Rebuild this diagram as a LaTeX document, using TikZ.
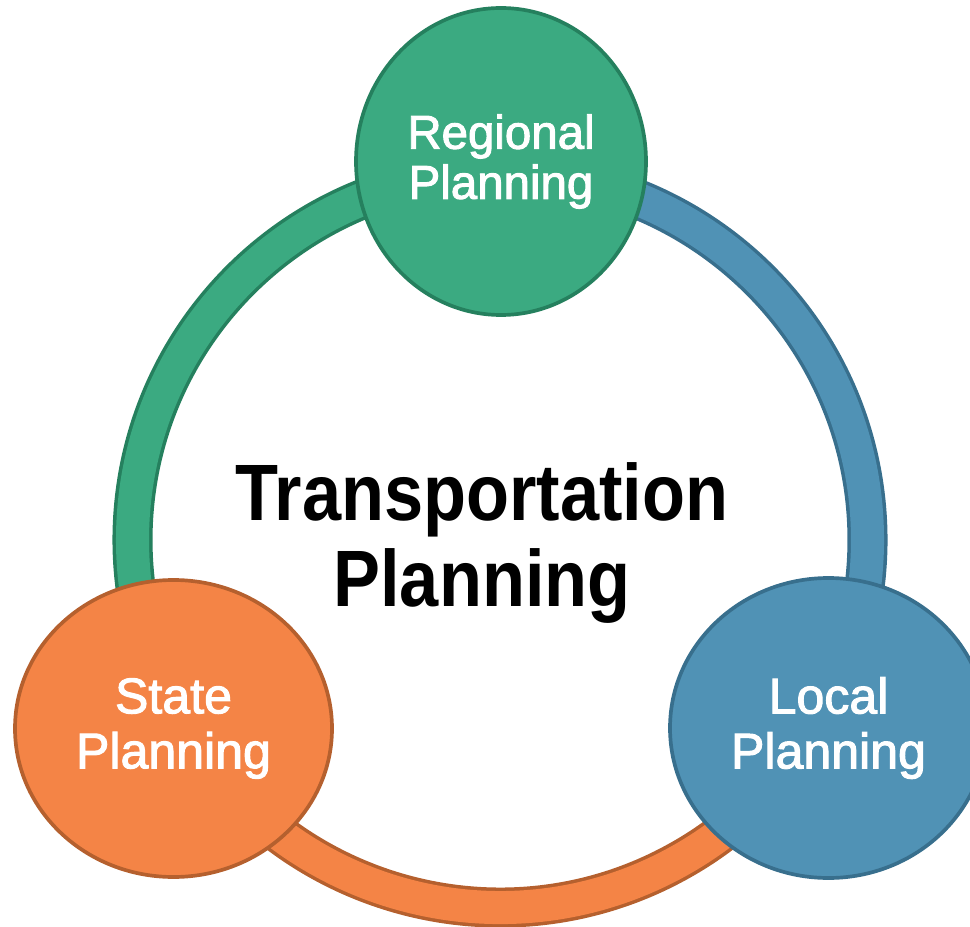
\documentclass[tikz,border=0pt]{standalone}
\usepackage{fontspec}
\setmainfont{Liberation Sans}
\newfontfamily\titlefont[FakeStretch=0.88]{Liberation Sans}
\newfontfamily\levelfont[FakeBold=2]{Liberation Sans}
\usetikzlibrary{shapes.geometric}
\definecolor{regfill}{HTML}{3BAA81}
\definecolor{regline}{HTML}{25805E}
\definecolor{locfill}{HTML}{5092B5}
\definecolor{locline}{HTML}{386F8D}
\definecolor{statefill}{HTML}{F48446}
\definecolor{stateline}{HTML}{B5602E}

\begin{document}
\begin{tikzpicture}[x=0.2mm, y=0.2mm,
  planet/.style={ellipse, line width=2.1pt, inner sep=0pt, align=center, text=white,
    font=\levelfont\fontsize{28.5}{31.3}\selectfont},
  band/.style={line width=2pt, double distance=18.8pt}]
\useasboundingbox (0,0) rectangle (970,-927);
\coordinate (hub) at (500,-540);
% the ring, one arc per pair
\draw[band, draw=regline, double=regfill] (hub) ++(90:367.5) arc[start angle=90, end angle=210, radius=367.5]; % regional - state
\draw[band, draw=locline, double=locfill] (hub) ++(90:367.5) arc[start angle=90, end angle=-30, radius=367.5]; % regional - local
\draw[band, draw=stateline, double=statefill] (hub) ++(210:367.5) arc[start angle=210, end angle=330, radius=367.5]; % state - local
% the three levels
\node[planet, draw=regline, fill=regfill, minimum width=58mm, minimum height=61.4mm,
  font=\levelfont\fontsize{27}{28.5}\selectfont] (regional) at (501,-161.5) {Regional\\Planning};
\node[planet, draw=stateline, fill=statefill, minimum width=63.4mm, minimum height=59.4mm] (state) at (173.5,-728.5) {State\\Planning};
\node[planet, draw=locline, fill=locfill, minimum width=63.4mm, minimum height=60mm] (local) at (828.5,-728) {Local\\Planning};
% centre
\node[align=center, font=\titlefont\bfseries\fontsize{45.5}{48.4}\selectfont] (title) at (482,-543) {Transportation\\Planning};
\end{tikzpicture}
\end{document}
